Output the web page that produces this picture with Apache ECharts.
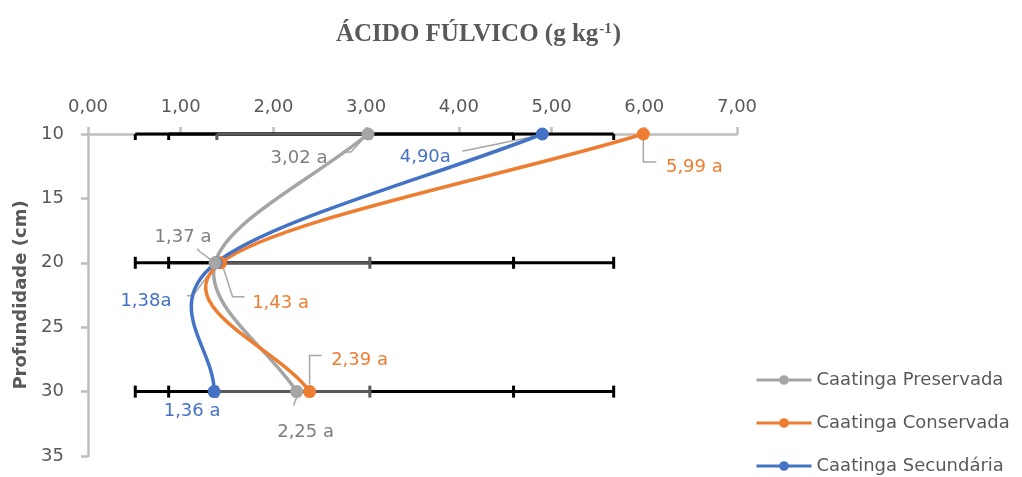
<!DOCTYPE html>
<html>
<head>
<meta charset="utf-8">
<script src="https://cdn.jsdelivr.net/npm/echarts@6/dist/echarts.min.js"></script>
<style>
  html, body { margin: 0; padding: 0; background: #fff; }
  #chart { width: 1022px; height: 477px; }
</style>
</head>
<body>
<div id="chart"></div>
<script>
// Profundidade de amostragem (cm)
const depths = [10, 20, 30];

// Ácido fúlvico (g kg-1) por área
const preservada = [3.02, 1.37, 2.25];
const conservada = [5.99, 1.43, 2.39];
const secundaria = [4.90, 1.38, 1.36];

// Letras de significância de cada média
const letrasPreservada = ['a', 'a', 'a'];
const letrasConservada = ['a', 'a', 'a'];
const letrasSecundaria = ['a', 'a', 'a'];

// Faixa das barras de erro (mínimo, máximo) de cada série
const erroPreservada = [1.39, 3.04];
const erroConservada = [0.87, 5.67];
const erroSecundaria = [0.51, 4.59];

const seriesNames = ['Caatinga Preservada', 'Caatinga Conservada', 'Caatinga Secundária'];
const xTickLabels = ['0,00', '1,00', '2,00', '3,00', '4,00', '5,00', '6,00', '7,00'];
const yTickLabels = ['10', '15', '20', '25', '30', '35'];

const colors = ['#A5A5A5', '#ED7D31', '#4472C4'];
const labelColors = ['#7F7F7F', '#ED7D31', '#4472C4'];
const errorColors = ['#595959', '#000000', '#000000'];
const pointZ = [12, 10, 11];
const FONT = 'DejaVu Sans';

// Deslocamento (px) do centro de cada rótulo em relação ao marcador
const labelShift = [
  [[-69, 24], [-32, -25], [9, 41]],
  [[51, 33], [60, 41], [50, -31]],
  [[-117, 23], [-70, 39], [-22, 20]]
];
// Linhas de chamada (px, relativas ao marcador); null = sem linha
const leaderPath = [
  [[[-26, 18], [-17, 18], [-5, 5]], [[-18, -14], [-15, -11], [-4, -3]], [[-3, 14], [-2, 11], [0, 6]]],
  [[[13, 28], [0, 28], [0, 6]], [[24, 34], [12, 34], [3, 6]], [[12, -36], [0, -36], [0, -7]]],
  [[[-80, 17], [-74, 16], [-6, 2]], [[-29, 33], [-23, 33], [-3, 6]], null]
];

const values = [preservada, conservada, secundaria];
const letters = [letrasPreservada, letrasConservada, letrasSecundaria];
const ranges = [erroPreservada, erroConservada, erroSecundaria];

function fmt(v) { return v.toFixed(2).replace('.', ','); }

// Curva suavizada (Bézier tipo Catmull-Rom) que passa pelos pontos da série
function curveSeries(s) {
  return {
    type: 'custom',
    name: 'curva' + s,
    z: 4 + s,
    silent: true,
    clip: false,
    data: values[s].map((v, i) => [v, depths[i]]),
    renderItem: (params, api) => {
      if (params.dataIndexInside !== 0) return null;
      const n = values[s].length;
      const p = [];
      for (let i = 0; i < n; i++) {
        p.push(api.coord([api.value(0, i), api.value(1, i)]));
      }
      const children = [];
      for (let i = 0; i < n - 1; i++) {
        const p0 = p[Math.max(i - 1, 0)];
        const p1 = p[i];
        const p2 = p[i + 1];
        const p3 = p[Math.min(i + 2, n - 1)];
        const k1 = i === 0 ? 3 : 6;
        const k2 = i + 2 > n - 1 ? 3 : 6;
        children.push({
          type: 'bezierCurve',
          shape: {
            x1: p1[0], y1: p1[1],
            cpx1: p1[0] + (p2[0] - p0[0]) / k1, cpy1: p1[1] + (p2[1] - p0[1]) / k1,
            cpx2: p2[0] - (p3[0] - p1[0]) / k2, cpy2: p2[1] - (p3[1] - p1[1]) / k2,
            x2: p2[0], y2: p2[1]
          },
          style: { stroke: colors[s], lineWidth: 3.5, fill: null, lineCap: 'round' }
        });
      }
      return { type: 'group', children };
    },
    animation: false
  };
}

// Linhas de chamada dos rótulos, ancoradas em cada marcador
const leaderData = [];
values.forEach((vals, s) => vals.forEach((v, i) => leaderData.push([v, depths[i], s, i])));
const leaderSeries = {
  type: 'custom',
  name: 'chamadas',
  z: 3,
  silent: true,
  clip: false,
  data: leaderData,
  renderItem: (params, api) => {
    const c = api.coord([api.value(0), api.value(1)]);
    const path = leaderPath[api.value(2)][api.value(3)];
    if (!path) return null;
    return {
      type: 'polyline',
      shape: { points: path.map(q => [c[0] + q[0], c[1] + q[1]]) },
      style: { stroke: '#A6A6A6', lineWidth: 1.5, fill: null }
    };
  },
  animation: false
};

// Marcadores e rótulos de cada série
const pointSeries = values.map((vals, s) => ({
  name: seriesNames[s],
  type: 'line',
  z: pointZ[s],
  symbol: 'circle',
  symbolSize: 13,
  color: colors[s],
  lineStyle: { width: 3.5, color: colors[s], opacity: 0 },
  itemStyle: { color: colors[s] },
  data: vals.map((v, i) => [v, depths[i]]),
  label: {
    show: true,
    position: 'inside',
    formatter: p => fmt(p.value[0]) + (s === 2 && p.dataIndex < 2 ? '' : ' ') + letters[s][p.dataIndex],
    color: labelColors[s],
    fontFamily: FONT,
    fontSize: 18
  },
  labelLayout: p => {
    const d = labelShift[s][p.dataIndex];
    return {
      x: p.rect.x + p.rect.width / 2 + d[0],
      y: p.rect.y + p.rect.height / 2 + d[1],
      align: 'center',
      verticalAlign: 'middle'
    };
  },
  emphasis: { disabled: true },
  animation: false
}));

// Barras de erro horizontais, repetidas em cada profundidade
function errorSeries(s) {
  return {
    type: 'custom',
    name: 'erro' + s,
    z: s === 0 ? 2 : 1,
    silent: true,
    clip: false,
    data: depths.map(d => [ranges[s][0], ranges[s][1], d]),
    renderItem: (params, api) => {
      const a = api.coord([api.value(0), api.value(2)]);
      const b = api.coord([api.value(1), api.value(2)]);
      const top = params.coordSys.y;
      const capTop = Math.max(a[1] - 6, top);
      const st = { stroke: errorColors[s], lineWidth: 3 };
      return {
        type: 'group',
        children: [
          { type: 'line', shape: { x1: a[0], y1: a[1], x2: b[0], y2: b[1] }, style: st },
          { type: 'line', shape: { x1: a[0], y1: capTop, x2: a[0], y2: a[1] + 6 }, style: st },
          { type: 'line', shape: { x1: b[0], y1: capTop, x2: b[0], y2: b[1] + 6 }, style: st }
        ]
      };
    },
    animation: false
  };
}

const chart = echarts.init(document.getElementById('chart'));
chart.setOption({
  backgroundColor: '#ffffff',
  animation: false,
  title: {
    text: '{t|ÁCIDO FÚLVICO (g kg}{s|-1}{t|)}',
    left: 331,
    top: 17,
    textStyle: {
      rich: {
        t: { fontFamily: 'Liberation Serif', fontWeight: 'bold', fontSize: 25, color: '#595959' },
        s: { fontFamily: 'Liberation Serif', fontWeight: 'bold', fontSize: 15, color: '#595959', verticalAlign: 'top', padding: [0, 1, 8, 1] }
      }
    }
  },
  legend: {
    orient: 'vertical',
    left: 750,
    top: 365,
    height: 160,
    itemWidth: 55,
    itemHeight: 12,
    itemGap: 23,
    data: seriesNames,
    lineStyle: { width: 3, opacity: 1 },
    textStyle: { fontFamily: FONT, fontSize: 18, color: '#595959', lineHeight: 20 }
  },
  grid: { left: 88, top: 134, width: 649, height: 322, containLabel: false },
  xAxis: {
    type: 'value',
    position: 'top',
    min: 0,
    max: 7,
    interval: 1,
    axisLine: { show: true, lineStyle: { color: '#BFBFBF', width: 2.5 } },
    axisTick: { show: true, length: 7, lineStyle: { color: '#BFBFBF', width: 2.5 } },
    splitLine: { show: false },
    axisLabel: {
      margin: 18,
      formatter: v => xTickLabels[Math.round(v)],
      fontFamily: FONT,
      fontSize: 18,
      color: '#595959'
    }
  },
  yAxis: {
    type: 'value',
    inverse: true,
    min: 10,
    max: 35,
    interval: 5,
    name: 'Profundidade (cm)',
    nameLocation: 'middle',
    nameGap: 58,
    nameTextStyle: { fontFamily: FONT, fontWeight: 'bold', fontSize: 18, color: '#595959' },
    axisLine: { show: true, lineStyle: { color: '#BFBFBF', width: 2.5 } },
    axisTick: { show: true, length: 7, lineStyle: { color: '#BFBFBF', width: 2.5 } },
    splitLine: { show: false },
    axisLabel: {
      margin: 24,
      formatter: v => yTickLabels[Math.round((v - 10) / 5)],
      fontFamily: FONT,
      fontSize: 18,
      color: '#595959'
    }
  },
  series: [errorSeries(1), errorSeries(2), errorSeries(0), leaderSeries,
           curveSeries(0), curveSeries(1), curveSeries(2)].concat(pointSeries)
});
</script>
</body>
</html>
